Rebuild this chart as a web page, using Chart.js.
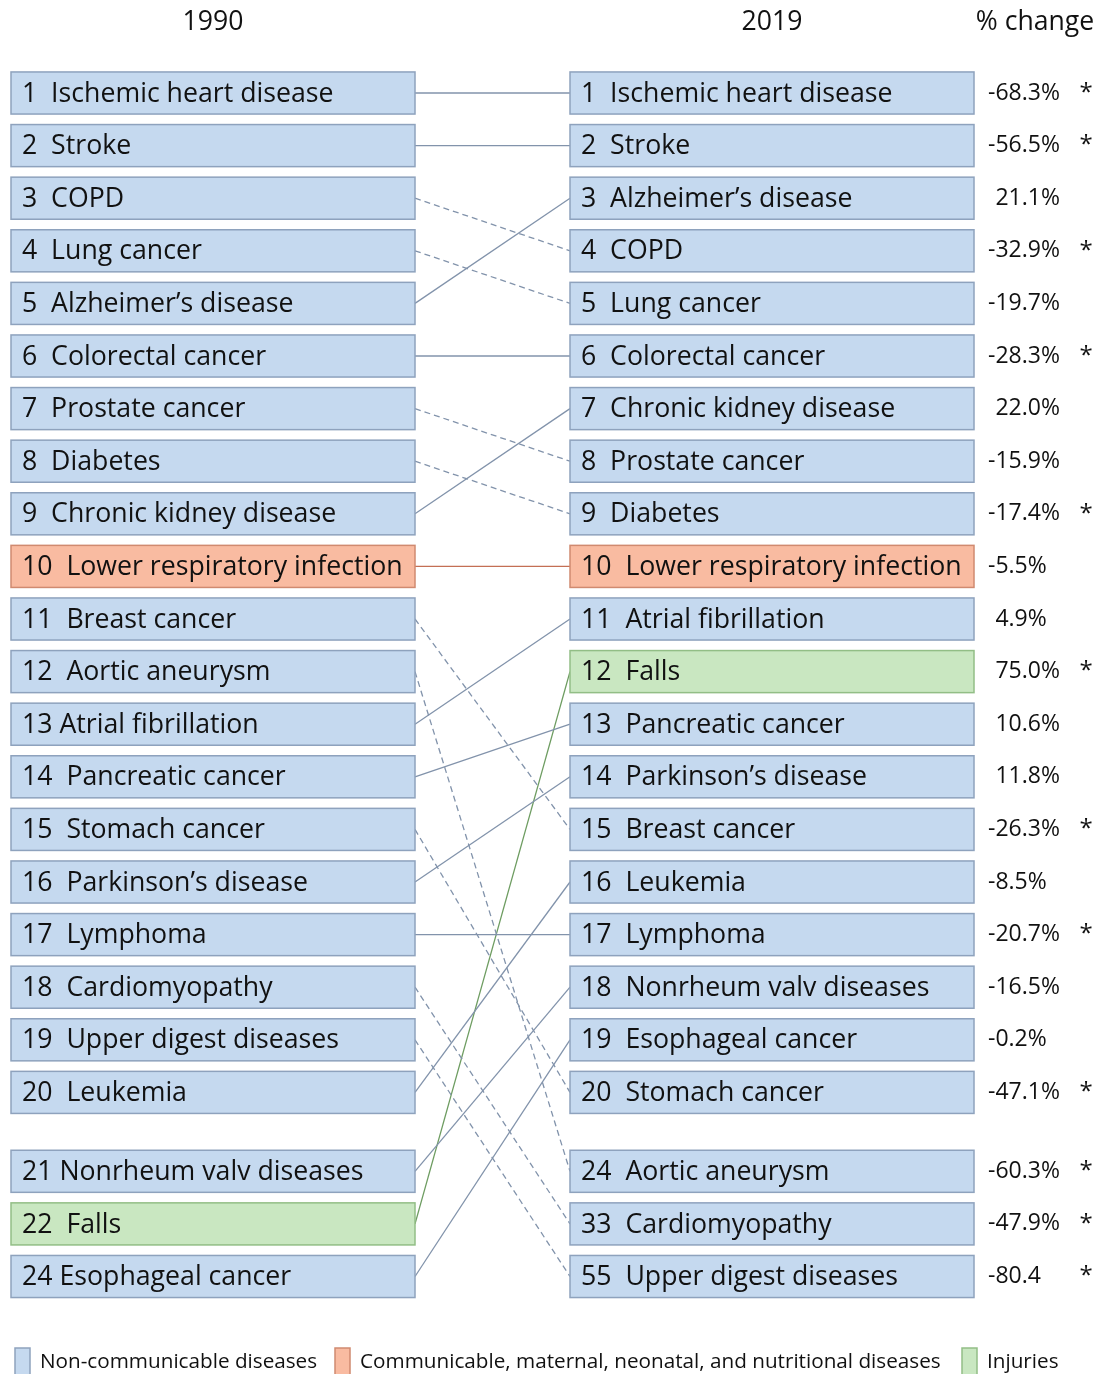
<!DOCTYPE html>
<html>
<head>
<meta charset="utf-8">
<script src="https://cdn.jsdelivr.net/npm/chart.js@4.4.0/dist/chart.umd.min.js"></script>
<style>
  body { margin: 0; background: #fff; }
  #wrap { width: 1097px; height: 1374px; }
</style>
</head>
<body>
<div id="wrap"><canvas id="rankChart" width="1097" height="1374"></canvas></div>
<script>
// ---- data ----
var causes1990 = ["Ischemic heart disease", "Stroke", "COPD", "Lung cancer", "Alzheimer\u2019s disease",
  "Colorectal cancer", "Prostate cancer", "Diabetes", "Chronic kidney disease", "Lower respiratory infection",
  "Breast cancer", "Aortic aneurysm", "Atrial fibrillation", "Pancreatic cancer", "Stomach cancer",
  "Parkinson\u2019s disease", "Lymphoma", "Cardiomyopathy", "Upper digest diseases", "Leukemia",
  "Nonrheum valv diseases", "Falls", "Esophageal cancer"];
var ranks1990 = [1, 2, 3, 4, 5, 6, 7, 8, 9, 10, 11, 12, 13, 14, 15, 16, 17, 18, 19, 20, 21, 22, 24];

var causes2019 = ["Ischemic heart disease", "Stroke", "Alzheimer\u2019s disease", "COPD", "Lung cancer",
  "Colorectal cancer", "Chronic kidney disease", "Prostate cancer", "Diabetes", "Lower respiratory infection",
  "Atrial fibrillation", "Falls", "Pancreatic cancer", "Parkinson\u2019s disease", "Breast cancer",
  "Leukemia", "Lymphoma", "Nonrheum valv diseases", "Esophageal cancer", "Stomach cancer",
  "Aortic aneurysm", "Cardiomyopathy", "Upper digest diseases"];
var ranks2019 = [1, 2, 3, 4, 5, 6, 7, 8, 9, 10, 11, 12, 13, 14, 15, 16, 17, 18, 19, 20, 24, 33, 55];

var pctChange = ["-68.3%", "-56.5%", "21.1%", "-32.9%", "-19.7%", "-28.3%", "22.0%", "-15.9%", "-17.4%", "-5.5%",
  "4.9%", "75.0%", "10.6%", "11.8%", "-26.3%", "-8.5%", "-20.7%", "-16.5%", "-0.2%", "-47.1%",
  "-60.3%", "-47.9%", "-80.4"];
var significant = [1, 1, 0, 1, 0, 1, 0, 0, 1, 0, 0, 1, 0, 0, 1, 0, 1, 0, 0, 1, 1, 1, 1];

// cause groups
var groupNames = ["Non-communicable diseases", "Communicable, maternal, neonatal, and nutritional diseases", "Injuries"];
var groupOf = { "Lower respiratory infection": 1, "Falls": 2 };

var headers = ["1990", "2019", "% change"];

// ---- styles ----
var fills = ["#c5d9ef", "#f9bba1", "#c9e7c1"];
var borders = ["#8ea2bd", "#d08a70", "#92be86"];
var lineCols = ["#8293ab", "#c46f55", "#6d9c60"];
var FONT = "'Open Sans', 'Noto Sans', sans-serif";
var tightRanks = [13, 21, 24];   // these have one space after the number on the left

// slot on the y axis: top 20 in rows, the rest below a gap
function slotOf(i) { return i < 20 ? i + 1 : i + 1.5; }
function group(name) { return groupOf[name] || 0; }

var datasets = causes1990.map(function (name, i) {
  var j = causes2019.indexOf(name);
  var a = slotOf(i), b = slotOf(j);
  return {
    data: [{ x: 0, y: a }, { x: 1, y: b }],
    borderColor: lineCols[group(name)],
    borderWidth: 1.3,
    borderDash: b > a ? [6, 4] : [],
    pointRadius: 0,
    fill: false,
    clip: false
  };
});

var boxesPlugin = {
  id: 'boxes',
  afterDatasetsDraw: function (chart) {
    var ctx = chart.ctx, xs = chart.scales.x, ys = chart.scales.y;
    var leftEdge = xs.getPixelForValue(0), rightEdge = xs.getPixelForValue(1);
    var step = ys.getPixelForValue(2) - ys.getPixelForValue(1);
    var h = step * 0.8, w = 404;
    ctx.save();
    function box(x0, slot, label, g) {
      var yc = ys.getPixelForValue(slot);
      ctx.fillStyle = fills[g];
      ctx.fillRect(x0, yc - h / 2, w, h);
      ctx.strokeStyle = borders[g];
      ctx.lineWidth = 1.5;
      ctx.strokeRect(x0, yc - h / 2, w, h);
      ctx.fillStyle = '#111';
      ctx.font = '26.7px ' + FONT;
      ctx.textAlign = 'left';
      ctx.textBaseline = 'middle';
      ctx.fillText(label, x0 + 11, yc + 1);
    }
    causes1990.forEach(function (name, i) {
      var sep = tightRanks.indexOf(ranks1990[i]) >= 0 ? ' ' : '  ';
      box(leftEdge - w, slotOf(i), ranks1990[i] + sep + name, group(name));
    });
    causes2019.forEach(function (name, i) {
      box(rightEdge, slotOf(i), ranks2019[i] + '  ' + name, group(name));
      var yc = ys.getPixelForValue(slotOf(i));
      ctx.fillStyle = '#111';
      ctx.font = '23px ' + FONT;
      ctx.textAlign = 'left';
      var v = pctChange[i];
      var px = rightEdge + w + 14;
      if (v.charAt(0) !== '-') px += ctx.measureText('-').width;
      ctx.fillText(v, px, yc);
      if (significant[i]) {
        ctx.textAlign = 'center';
        ctx.font = '24px ' + FONT;
        ctx.fillText('*', 1086, yc);
      }
    });
    // headers
    ctx.fillStyle = '#111';
    ctx.font = '26.6px ' + FONT;
    ctx.textAlign = 'center';
    ctx.textBaseline = 'middle';
    ctx.fillText(headers[0], leftEdge - w / 2, 22);
    ctx.fillText(headers[1], rightEdge + w / 2, 22);
    ctx.fillText(headers[2], 1035, 22);
    // legend
    var lx = [15, 335, 962];
    ctx.font = '20.7px ' + FONT;
    ctx.textAlign = 'left';
    groupNames.forEach(function (g, k) {
      ctx.fillStyle = fills[k];
      ctx.fillRect(lx[k], 1348, 15, 30);
      ctx.strokeStyle = borders[k];
      ctx.lineWidth = 1.5;
      ctx.strokeRect(lx[k], 1348, 15, 30);
      ctx.fillStyle = '#111';
      ctx.fillText(g, lx[k] + 25, 1362);
    });
    ctx.restore();
  }
};

new Chart(document.getElementById('rankChart'), {
  type: 'line',
  data: { datasets: datasets },
  options: {
    responsive: false,
    animation: false,
    events: [],
    layout: { padding: { left: 415, right: 527, top: 93, bottom: 97.5 } },
    scales: {
      x: { type: 'linear', min: 0, max: 1, display: false },
      y: { type: 'linear', min: 1, max: 23.5, reverse: true, display: false }
    },
    plugins: { legend: { display: false }, tooltip: { enabled: false } }
  },
  plugins: [boxesPlugin]
});
</script>
</body>
</html>
